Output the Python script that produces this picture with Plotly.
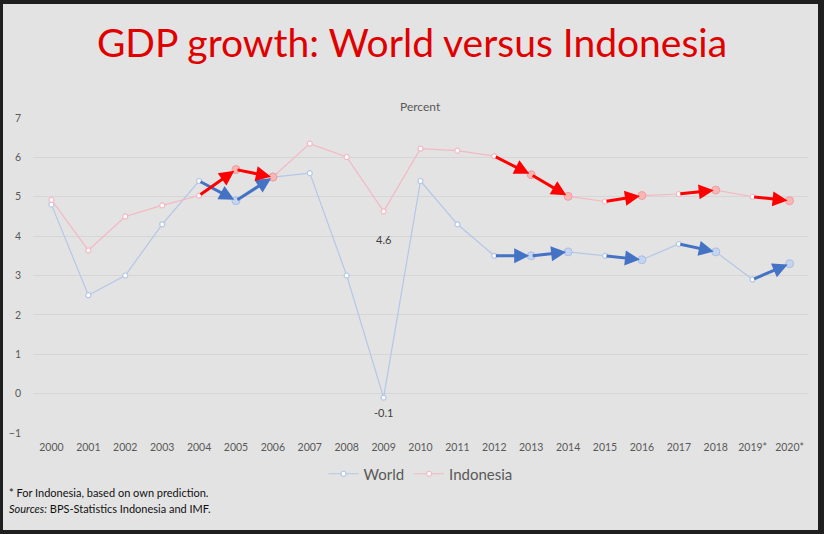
import plotly.graph_objects as go

years = ["2000", "2001", "2002", "2003", "2004", "2005", "2006", "2007", "2008", "2009", "2010",
         "2011", "2012", "2013", "2014", "2015", "2016", "2017", "2018", "2019*", "2020*"]
world = [4.8, 2.5, 3.0, 4.3, 5.4, 4.9, 5.5, 5.6, 3.0, -0.1, 5.4,
         4.3, 3.5, 3.5, 3.6, 3.5, 3.4, 3.8, 3.6, 2.9, 3.3]
indonesia = [4.92, 3.64, 4.5, 4.78, 5.03, 5.69, 5.5, 6.35, 6.01, 4.63, 6.22,
             6.17, 6.03, 5.56, 5.01, 4.88, 5.03, 5.07, 5.17, 5.0, 4.9]

# arrows go from year i to year i+1
arrow_start = ["2004", "2005", "2012", "2013", "2015", "2017", "2019*"]

FONT = "Lato, 'Open Sans', sans-serif"
BG = "#e3e3e3"
DARK = "#1f1f1f"
TXT = "#595959"
WORLD_LINE = "#b4c7e7"
INDO_LINE = "#f4b8c4"
RED = "#ff0000"
BLUE = "#4472c4"

xs = list(range(len(years)))
start_idx = [years.index(y) for y in arrow_start]
end_idx = [i + 1 for i in start_idx]

fig = go.Figure()

fig.add_trace(go.Scatter(
    x=xs, y=world, mode="lines+markers", name="World",
    line=dict(color=WORLD_LINE, width=1.2),
    marker=dict(size=5, color="white", line=dict(color=WORLD_LINE, width=1.2)),
))
fig.add_trace(go.Scatter(
    x=xs, y=indonesia, mode="lines+markers", name="Indonesia",
    line=dict(color=INDO_LINE, width=1.2),
    marker=dict(size=5, color="white", line=dict(color=INDO_LINE, width=1.2)),
))

# highlighted end points of the arrows
fig.add_trace(go.Scatter(
    x=end_idx, y=[world[i] for i in end_idx], mode="markers", showlegend=False,
    marker=dict(size=8, color="#c5d4ef", line=dict(color="#a9bfe6", width=1)),
))
fig.add_trace(go.Scatter(
    x=end_idx, y=[indonesia[i] for i in end_idx], mode="markers", showlegend=False,
    marker=dict(size=8, color="#f7b7b7", line=dict(color="#f29c9c", width=1)),
))

annotations = []
for series, color in ((world, BLUE), (indonesia, RED)):
    for s, e in zip(start_idx, end_idx):
        annotations.append(dict(
            x=e, y=series[e], ax=s, ay=series[s],
            xref="x", yref="y", axref="x", ayref="y",
            showarrow=True, arrowhead=2, arrowsize=1, arrowwidth=3,
            arrowcolor=color, standoff=2, text="",
        ))

i09 = years.index("2009")
annotations += [
    dict(x=i09, y=indonesia[i09], text=f"{indonesia[i09]:.1f}", showarrow=False,
         yshift=-28, font=dict(size=11, color="#404040", family=FONT)),
    dict(x=i09, y=world[i09], text=f"{world[i09]:.1f}", showarrow=False,
         yshift=-15, font=dict(size=11, color="#404040", family=FONT)),
    dict(x=0.5, y=1.067, xref="paper", yref="paper", text="Percent", showarrow=False,
         font=dict(size=12, color=TXT, family=FONT)),
    dict(x=-0.033, y=-0.216, xref="paper", yref="paper", xanchor="left",
         text="* For Indonesia, based on own prediction.", showarrow=False,
         font=dict(size=11, color="#111111", family=FONT)),
    dict(x=-0.033, y=-0.267, xref="paper", yref="paper", xanchor="left",
         text="<i>Sources:</i> BPS-Statistics Indonesia and IMF.", showarrow=False,
         font=dict(size=11, color="#111111", family=FONT)),
]

# dark frame around the slide
W, H = 824, 534
L, R, T, B = 33, 16, 118, 101
pw, ph = W - L - R, H - T - B


def px(x):
    return (x - L) / pw


def py(y):
    return (H - B - y) / ph


frame = [(0, 0, 3, H), (818, 0, W, H), (0, 0, W, 4), (0, 530, W, H)]
shapes = [
    dict(type="rect", xref="paper", yref="paper", x0=px(a), x1=px(c), y0=py(b), y1=py(d),
         fillcolor=DARK, line=dict(width=0), layer="above")
    for a, b, c, d in frame
]

fig.update_layout(
    width=W, height=H,
    margin=dict(l=L, r=R, t=T, b=B, autoexpand=False),
    paper_bgcolor=BG, plot_bgcolor=BG,
    font=dict(family=FONT, color=TXT, size=11),
    title=dict(text="GDP growth: World versus Indonesia", x=0.5, xanchor="center",
               y=1 - 43 / H, yanchor="middle",
               font=dict(size=39, color="#e00000", family=FONT)),
    xaxis=dict(tickmode="array", tickvals=xs, ticktext=years, range=[-0.5, 20.5],
               showgrid=False, zeroline=False, showline=False, ticks="", automargin=False,
               ticklabelstandoff=6, tickfont=dict(size=10.5, color=TXT)),
    yaxis=dict(range=[-1, 7], dtick=1, showgrid=True, gridcolor="#d6d6d6", gridwidth=1,
               zeroline=False, showline=False, ticks="", automargin=False,
               ticklabelstandoff=11, tickfont=dict(size=10.5, color=TXT)),
    showlegend=True,
    legend=dict(orientation="h", x=0.5, xanchor="center", y=py(474), yanchor="middle",
                bgcolor="rgba(0,0,0,0)", itemwidth=30,
                font=dict(size=15, color=TXT, family=FONT)),
    annotations=annotations,
    shapes=shapes,
)

fig.write_html("out.html", config={"displayModeBar": False},
               post_script="document.body.style.margin='0';")
